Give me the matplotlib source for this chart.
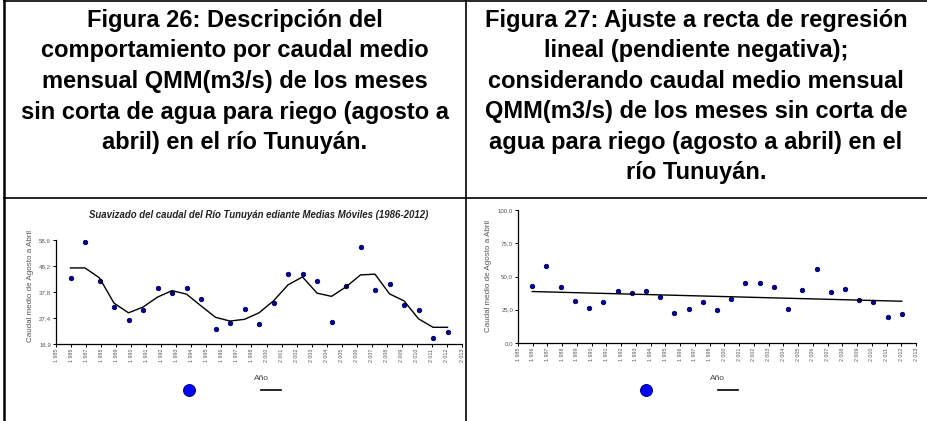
#!/usr/bin/env python3
import matplotlib
matplotlib.use('Agg')
import matplotlib.pyplot as plt
from matplotlib.lines import Line2D
import numpy as np

plt.rcParams['font.family'] = ['Liberation Sans', 'DejaVu Sans']

# data
years = list(range(1986, 2013))
caudal = [43.2, 57.7, 42.1, 31.7, 26.4, 30.5, 39.2, 37.3, 39.2, 34.9, 22.9, 25.3,
          31.0, 24.8, 33.2, 44.9, 44.8, 42.2, 25.7, 40.0, 55.9, 38.6, 40.9, 32.4,
          30.5, 19.4, 21.6]
media_movil = [47.4, 47.4, 43.4, 33.3, 29.4, 31.7, 35.7, 38.3, 36.9, 32.2, 27.6, 26.1,
               26.8, 29.4, 34.2, 40.6, 43.8, 37.3, 36.0, 39.8, 44.6, 44.9, 37.0, 34.2,
               27.0, 23.6, 23.6]
tendencia_x = [1986, 2012]
tendencia_y = [38.7, 31.4]

xtick_labels = ['1 985', '1 986', '1 987', '1 988', '1 989', '1 990', '1 991', '1 992',
                '1 993', '1 994', '1 995', '1 996', '1 997', '1 998', '2 000', '2 001',
                '2 002', '2 003', '2 004', '2 005', '2 006', '2 007', '2 008', '2 009',
                '2 010', '2 011', '2 012', '2 013']
ytick_left = [16.9, 27.4, 37.8, 48.2, 58.6]
ytick_right = [0, 25, 50, 75, 100]

header_left = ['Figura 26: Descripción del',
               'comportamiento por caudal medio',
               'mensual QMM(m3/s) de los meses',
               'sin corta de agua para riego (agosto a',
               'abril) en el río Tunuyán.']
header_right = ['Figura 27: Ajuste a recta de regresión',
                'lineal (pendiente negativa);',
                'considerando caudal medio mensual',
                'QMM(m3/s) de los meses sin corta de',
                'agua para riego (agosto a abril) en el',
                'río Tunuyán.']

W, H = 927, 421
fig = plt.figure(figsize=(W / 100, H / 100), dpi=100)


def fx(x):
    return x / W


def fy(y):
    return 1 - y / H


# table lines
for (x0, y0, x1, y1, lw) in [(4, 1, 927, 1, 1.2), (4, 0, 4, 421, 1.8),
                             (4, 198, 927, 198, 1.2), (466, 0, 466, 421, 1.2)]:
    fig.add_artist(Line2D([fx(x0), fx(x1)], [fy(y0), fy(y1)], color='black', lw=lw))

# header texts
for i, t in enumerate(header_left):
    fig.text(fx(235), fy(20 + i * 30.7), t, ha='center', va='center',
             fontsize=17, fontweight='bold')
for i, t in enumerate(header_right):
    fig.text(fx(696), fy(20 + i * 30.5), t, ha='center', va='center',
             fontsize=17, fontweight='bold')

xticks = np.linspace(1985, 2013, len(xtick_labels))


def style_axes(ax, yticks, ylabels):
    for s in ['top', 'right']:
        ax.spines[s].set_visible(False)
    for s in ['left', 'bottom']:
        ax.spines[s].set_linewidth(0.9)
    ax.set_xlim(1985, 2013)
    ax.set_xticks(xticks)
    ax.set_xticklabels(xtick_labels, rotation=90, fontsize=3.8, color='#555555')
    ax.set_yticks(yticks)
    ax.set_yticklabels(ylabels, fontsize=4.4, color='#555555')
    ax.tick_params(length=2, width=0.7, pad=1.5)
    ax.set_xlabel('Año', fontsize=6, color='#444444')
    ax.set_ylabel('Caudal medio de Agosto a Abril', fontsize=5.8, color='#555555')


dot_kw = dict(ls='none', marker='o', ms=3.2, mfc='#0000aa', mec='#000044', mew=0.6)

# left chart: moving average
ax1 = fig.add_axes([fx(56), fy(344), fx(462) - fx(56), fy(240) - fy(344)])
ax1.plot(years, caudal, **dot_kw)
ax1.plot(years, media_movil, color='black', lw=1.0)
ax1.set_ylim(16.9, 58.6)
style_axes(ax1, ytick_left, [f'{v:.1f}'.replace('.', ',') for v in ytick_left])
ax1.xaxis.set_label_coords(0.507, -0.3)
ax1.yaxis.set_label_coords(-0.055, 0.56)
ax1.text(0.5, 1.24, 'Suavizado del caudal del Río Tunuyán ediante Medias Móviles (1986-2012)',
         transform=ax1.transAxes, ha='center', va='center', fontsize=6.9,
         fontweight='bold', style='italic', color='#222222')

# right chart: linear regression
ax2 = fig.add_axes([fx(518), fy(343), fx(916) - fx(518), fy(210) - fy(343)])
ax2.plot(years, caudal, **dot_kw)
ax2.plot(tendencia_x, tendencia_y, color='black', lw=1.0)
ax2.set_ylim(0, 100)
style_axes(ax2, ytick_right, [f'{v:.1f}'.replace('.', ',') for v in ytick_right])
ax2.xaxis.set_label_coords(0.5, -0.24)
ax2.yaxis.set_label_coords(-0.065, 0.5)

# legends without labels
handles = [Line2D([], [], ls='none', marker='o', ms=8.5, mfc='#0000ff', mec='#000088', mew=0.8),
           Line2D([], [], color='black', lw=1.2)]
for ax, cx in [(ax1, 230), (ax2, 687)]:
    ax.legend(handles, ['', ''], ncol=2, frameon=False, loc='center',
              bbox_to_anchor=(fx(cx), fy(391)), bbox_transform=fig.transFigure,
              prop={'size': 8}, handlelength=1.8, handletextpad=0,
              columnspacing=5.5, borderpad=0)

fig.savefig('out.png', dpi=100)
plt.close(fig)
